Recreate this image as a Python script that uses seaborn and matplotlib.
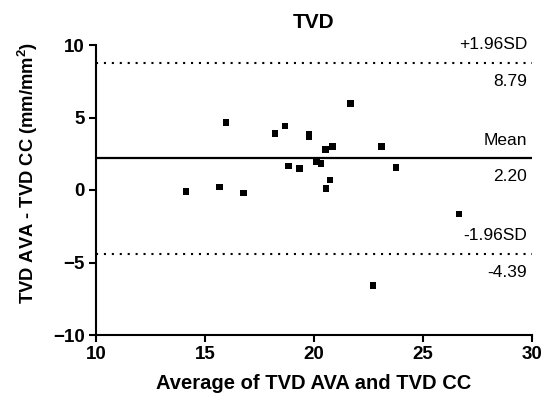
import matplotlib
matplotlib.use('Agg')
import matplotlib.pyplot as plt
import seaborn as sns
import pandas as pd

# valores (Bland-Altman TVD)
avg_vals = [14.13, 15.67, 16.76, 15.96, 18.22, 18.67, 18.84, 19.34, 19.78, 19.78, 21.67,
            20.84, 20.53, 23.10, 20.12, 20.31, 23.75, 20.73, 20.55, 26.65, 22.70]
diff_vals = [-0.10, 0.20, -0.20, 4.65, 3.89, 4.40, 1.67, 1.48, 3.87, 3.68, 5.97,
             2.99, 2.78, 3.01, 1.94, 1.83, 1.55, 0.69, 0.09, -1.67, -6.60]
bias = 2.20
upper_loa = 8.79
lower_loa = -4.39
x_ticks = [10, 15, 20, 25, 30]
y_ticks = [-10, -5, 0, 5, 10]

df = pd.DataFrame({'avg': avg_vals, 'diff': diff_vals})

sns.set_style('ticks')
plt.rcParams['font.family'] = ['Liberation Sans', 'DejaVu Sans']
plt.rcParams['mathtext.fontset'] = 'custom'
plt.rcParams['mathtext.bf'] = 'Liberation Sans:bold'
for k in ['text.color', 'axes.labelcolor', 'xtick.color', 'ytick.color', 'axes.edgecolor']:
    plt.rcParams[k] = 'black'

fig = plt.figure(figsize=(5.46, 4.0), dpi=100)
ax = fig.add_axes([0.1758, 0.1625, 0.7986, 0.725])

sns.scatterplot(data=df, x='avg', y='diff', marker='s', color='black', s=22,
                edgecolor='none', ax=ax, zorder=3)

# linhas de media e limites de concordancia
ax.axhline(bias, color='black', lw=1.6, zorder=2)
ax.axhline(upper_loa, color='black', lw=1.5, linestyle=(0, (1, 2.8)), zorder=2)
ax.axhline(lower_loa, color='black', lw=1.5, linestyle=(0, (1, 2.8)), zorder=2)

labels = [(upper_loa, '+1.96SD', f'{upper_loa:.2f}'),
          (bias, 'Mean', f'{bias:.2f}'),
          (lower_loa, '-1.96SD', f'{lower_loa:.2f}')]
for yv, top_txt, bot_txt in labels:
    ax.annotate(top_txt, xy=(30, yv), xytext=(-3.5, 13), textcoords='offset points',
                ha='right', va='center', fontsize=12.5)
    ax.annotate(bot_txt, xy=(30, yv), xytext=(-3.5, -13.5), textcoords='offset points',
                ha='right', va='center', fontsize=12.5)

ax.set_xlim(10, 30)
ax.set_ylim(-10, 10)
ax.set_xticks(x_ticks)
ax.set_yticks(y_ticks)
ax.set_title('TVD', fontsize=15, fontweight='bold', pad=12)
ax.set_xlabel('Average of TVD AVA and TVD CC', fontsize=14.5, fontweight='bold', labelpad=8)
ax.set_ylabel('TVD AVA - TVD CC (mm/mm$^{\\mathbf{2}}$)', fontsize=13.2, fontweight='bold')
ax.yaxis.set_label_coords(-0.128, 0.56)

sns.despine(ax=ax)
for sp in ['left', 'bottom']:
    ax.spines[sp].set_linewidth(1.5)
ax.tick_params(width=1.5, length=5, labelsize=13.5, pad=3)
for lab in ax.get_xticklabels() + ax.get_yticklabels():
    lab.set_fontweight('bold')

plt.savefig('out.png', dpi=100)
